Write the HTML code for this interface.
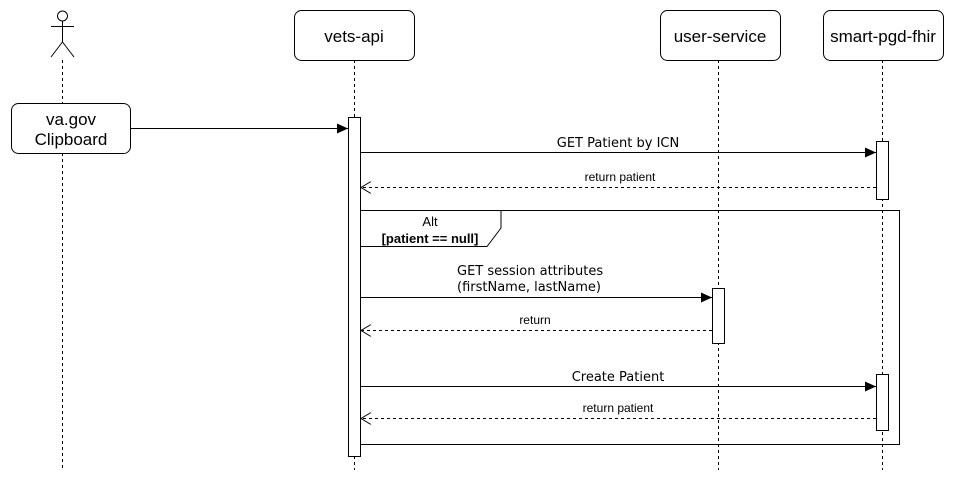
<!DOCTYPE html>
<html><head><meta charset="utf-8"><style>
html,body{margin:0;padding:0;background:#fff;}
svg{display:block;}
</style></head><body>
<svg width="953" height="481" viewBox="0 0 953 481" xmlns="http://www.w3.org/2000/svg">
<defs>
<marker id="fa" markerWidth="12" markerHeight="10" refX="11" refY="5" orient="auto" markerUnits="userSpaceOnUse"><path d="M0,0 L11,5 L0,10 Z" fill="#000"/></marker>
<marker id="oa" markerWidth="12" markerHeight="12" refX="11" refY="6" orient="auto" markerUnits="userSpaceOnUse"><path d="M1,0 L11,6 L1,12" fill="none" stroke="#000" stroke-width="1"/></marker>
</defs>
<g stroke="#000" stroke-width="1" fill="none" stroke-dasharray="3,3">
<line x1="62.5" y1="60" x2="62.5" y2="103"/>
<line x1="62.5" y1="153" x2="62.5" y2="470"/>
<line x1="354.5" y1="60" x2="354.5" y2="470"/>
<line x1="718.5" y1="60" x2="718.5" y2="470"/>
<line x1="882.5" y1="60" x2="882.5" y2="470"/>
</g>
<g stroke="#000" stroke-width="1" fill="#fff">
<circle cx="62.5" cy="16" r="5"/>
<line x1="62.5" y1="21" x2="62.5" y2="42"/>
<line x1="51" y1="26.5" x2="74" y2="26.5"/>
<line x1="62.5" y1="42" x2="51" y2="57"/>
<line x1="62.5" y1="42" x2="74" y2="57"/>
</g>
<g stroke="#000" stroke-width="1" fill="#fff">
<rect x="11.5" y="103.5" width="119" height="50" rx="7"/>
<rect x="294.5" y="10.5" width="120" height="50" rx="7"/>
<rect x="660.5" y="10.5" width="120" height="50" rx="7"/>
<rect x="823.5" y="10.5" width="120" height="50" rx="7"/>
</g>
<g font-family="Liberation Sans, sans-serif" font-size="17" text-anchor="middle" fill="#000">
<text x="71" y="125">va.gov</text>
<text x="71" y="145">Clipboard</text>
<text x="354" y="42">vets-api</text>
<text x="720" y="42">user-service</text>
<text x="883" y="42">smart-pgd-fhir</text>
</g>
<g stroke="#000" stroke-width="1" fill="none">
<rect x="360.5" y="210.5" width="539" height="234"/>
<path d="M360.5,246.5 L487,246.5 L501,228 L501,210.5"/>
</g>
<g font-family="Liberation Sans, sans-serif" font-size="13" text-anchor="middle" fill="#000">
<text x="430" y="226">Alt</text>
<text x="430" y="243" font-weight="bold">[patient == null]</text>
</g>
<g stroke="#000" stroke-width="1" fill="#fff">
<rect x="348.5" y="117.5" width="12" height="339"/>
<rect x="876.5" y="141.5" width="12" height="58"/>
<rect x="712.5" y="288.5" width="12" height="55"/>
<rect x="876.5" y="374.5" width="12" height="56"/>
</g>
<g stroke="#000" stroke-width="1" fill="none">
<line x1="130" y1="128.5" x2="348" y2="128.5" marker-end="url(#fa)"/>
<line x1="361" y1="152.5" x2="876" y2="152.5" marker-end="url(#fa)"/>
<line x1="876" y1="187.5" x2="361" y2="187.5" stroke-dasharray="3,3" marker-end="url(#oa)"/>
<line x1="361" y1="297.5" x2="712" y2="297.5" marker-end="url(#fa)"/>
<line x1="712" y1="330.5" x2="361" y2="330.5" stroke-dasharray="3,3" marker-end="url(#oa)"/>
<line x1="361" y1="386.5" x2="876" y2="386.5" marker-end="url(#fa)"/>
<line x1="876" y1="418.5" x2="361" y2="418.5" stroke-dasharray="3,3" marker-end="url(#oa)"/>
</g>
<g font-family="DejaVu Sans, sans-serif" font-size="13" fill="#000">
<text x="618" y="147" text-anchor="middle">GET Patient by ICN</text>
<text x="457" y="275">GET session attributes</text>
<text x="457" y="291">(firstName, lastName)</text>
<text x="618" y="381" text-anchor="middle">Create Patient</text>
</g>
<g font-family="Liberation Sans, sans-serif" font-size="12" fill="#000" text-anchor="middle">
<text x="620" y="181">return patient</text>
<text x="535" y="324">return</text>
<text x="618" y="412">return patient</text>
</g>
</svg>
</body></html>
